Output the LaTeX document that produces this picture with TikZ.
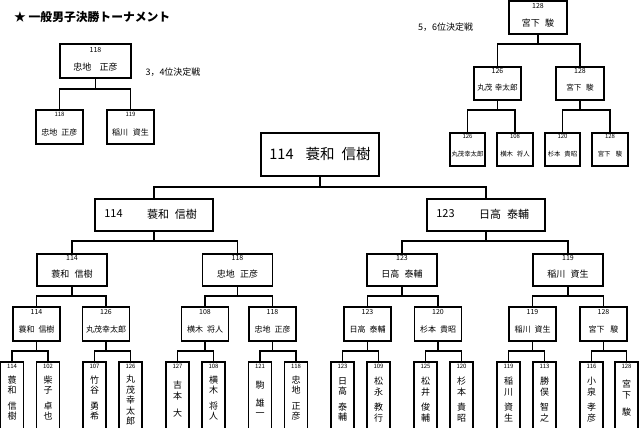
\documentclass[tikz,border=0pt]{standalone}
\usepackage{fontspec}
\setmainfont{Noto Sans CJK JP}
\usetikzlibrary{calc}

\newcommand\tconn[4]{%
  \coordinate (J) at (0,#2);
  \draw[conn] (#1.south) -- (#1.south |- J) -| (#3.north);
  \draw[conn] (#1.south |- J) -| (#4.north);}
\newcommand\numl[4]{\node[#2] (#1-n) at ($(#1.north)+(0,#3)$) {#4};}
\newcommand\naml[4]{\node[#2] (#1-t) at ($(#1.north)+(0,#3)$) {#4};}
\newcommand\rsx[5]{%
  \node[box, minimum width=23pt, minimum height=80pt, anchor=north] (#1) at (#2,361) {};
  \node[numS] (#1-n) at ($(#1.north)+(0,5.5)$) {#3};
  \node[vn] (#1-t) at ($(#1.north)+(0,#4)$) {#5};}
\newcommand\rex[4]{%
  \node[box, minimum width=47pt, minimum height=34pt, anchor=north] (#1) at (#2,306) {};
  \node[numT] (#1-n) at ($(#1.north)+(0,6)$) {#3};
  \node[nmR] (#1-t) at ($(#1.north)+(0,23)$) {#4};}
\newcommand\qfx[4]{%
  \node[box, minimum width=70pt, minimum height=32pt, anchor=north] (#1) at (#2,253) {};
  \node[numT] (#1-n) at ($(#1.north)+(0,5)$) {#3};
  \node[nm] (#1-t) at ($(#1.north)+(0,21)$) {#4};}

\begin{document}
\begin{tikzpicture}[x=1pt,y=-1pt,
  box/.style={draw,line width=1.8pt,inner sep=0pt},
  conn/.style={draw,line width=1.8pt},
  numT/.style={inner sep=0pt,font=\fontsize{7}{8}\selectfont},
  numS/.style={inner sep=0pt,font=\fontsize{6}{7}\selectfont},
  nm/.style={inner sep=0pt,font=\fontsize{9}{10}\selectfont},
  nmR/.style={inner sep=0pt,font=\fontsize{8}{9}\selectfont},
  nmM/.style={inner sep=0pt,font=\fontsize{7.6}{8.5}\selectfont},
  nmS/.style={inner sep=0pt,font=\fontsize{6.4}{7}\selectfont},
  vn/.style={inner sep=0pt,anchor=north,align=center,font=\fontsize{9}{10.5}\selectfont},
  lbl/.style={inner sep=0pt,font=\fontsize{9}{10}\selectfont},
]
\clip (0,0) rectangle (640,428);

% title
\node[anchor=west,inner sep=0pt,font=\fontsize{11.8}{13}\selectfont\bfseries] (title) at (14,17) {★ 一般男子決勝トーナメント};

% 3,4 place match
\node[box, minimum width=71pt, minimum height=34pt, anchor=north] (T34) at (95.5,43) {};
\numl{T34}{numT}{7}{118}
\naml{T34}{nm}{24}{忠地\hspace{0.9em}正彦}
\node[box, minimum width=47pt, minimum height=34pt, anchor=north] (T34a) at (59.5,109) {};
\numl{T34a}{numS}{5}{118}
\naml{T34a}{nmR}{23}{忠地\hspace{0.5em}正彦}
\node[box, minimum width=47pt, minimum height=34pt, anchor=north] (T34b) at (130.5,109) {};
\numl{T34b}{numS}{5}{119}
\naml{T34b}{nmR}{23}{稲川\hspace{0.6em}資生}
\node[lbl] (L34) at (173,72) {3，4位決定戦};
\tconn{T34}{89}{T34a}{T34b}

% 5,6 place match
\node[box, minimum width=58pt, minimum height=33pt, anchor=north] (T56) at (538,0.5) {};
\numl{T56}{numT}{5.5}{128}
\naml{T56}{nm}{22.5}{宮下\hspace{0.6em}駿}
\node[box, minimum width=47pt, minimum height=33pt, anchor=north] (M1) at (497.5,66) {};
\numl{M1}{numT}{5}{126}
\naml{M1}{nmM}{22}{丸茂\hspace{0.3em}幸太郎}
\node[box, minimum width=48pt, minimum height=33pt, anchor=north] (M2) at (580,66) {};
\numl{M2}{numT}{5}{128}
\naml{M2}{nmM}{22}{宮下\hspace{0.6em}駿}
\node[box, minimum width=35pt, minimum height=33pt, anchor=north] (B1) at (467.5,132) {};
\numl{B1}{numS}{4.5}{126}
\naml{B1}{nmS}{22}{丸茂幸太郎}
\node[box, minimum width=36pt, minimum height=33pt, anchor=north] (B2) at (515,132) {};
\numl{B2}{numS}{4.5}{108}
\naml{B2}{nmS}{22}{横木\hspace{0.6em}将人}
\node[box, minimum width=35pt, minimum height=33pt, anchor=north] (B3) at (562.5,132) {};
\numl{B3}{numS}{4.5}{120}
\naml{B3}{nmS}{22}{杉本\hspace{0.6em}貴昭}
\node[box, minimum width=36pt, minimum height=33pt, anchor=north] (B4) at (610,132) {};
\numl{B4}{numS}{4.5}{128}
\naml{B4}{nmS}{22}{宮下\hspace{0.8em}駿}
\node[lbl] (L56) at (445.5,27) {5，6位決定戦};
\tconn{T56}{44}{M1}{M2}
\tconn{M1}{110}{B1}{B2}
\tconn{M2}{110}{B3}{B4}

% final
\node[box, minimum width=118pt, minimum height=43pt, anchor=north] (F) at (320,132) {};
\node[inner sep=0pt,font=\fontsize{14.5}{16}\selectfont] (F-t) at (F.center) {114\hspace{12pt}蓑和\hspace{7pt}信樹};

% semifinals
\node[box, minimum width=118pt, minimum height=32pt, anchor=north] (S1) at (154,198) {};
\node[inner sep=0pt,font=\fontsize{11}{12}\selectfont] (S1-n) at (113.5,214) {114};
\node[inner sep=0pt,font=\fontsize{11}{12}\selectfont] (S1-t) at (172,214) {蓑和\hspace{6pt}信樹};
\node[box, minimum width=118pt, minimum height=32pt, anchor=north] (S2) at (486,198) {};
\node[inner sep=0pt,font=\fontsize{11}{12}\selectfont] (S2-n) at (445.5,214) {123};
\node[inner sep=0pt,font=\fontsize{11}{12}\selectfont] (S2-t) at (504,214) {日高\hspace{6pt}泰輔};
\tconn{F}{187}{S1}{S2}

% quarterfinals
\qfx{Q1}{72}{114}{蓑和\hspace{0.6em}信樹}
\qfx{Q2}{237.5}{118}{忠地\hspace{0.6em}正彦}
\qfx{Q3}{402}{123}{日高\hspace{0.6em}泰輔}
\qfx{Q4}{568}{119}{稲川\hspace{0.6em}資生}
\tconn{S1}{241}{Q1}{Q2}
\tconn{S2}{241}{Q3}{Q4}

% round of 8
\rex{r1}{36.5}{114}{蓑和\hspace{0.5em}信樹}
\rex{r2}{106}{126}{丸茂幸太郎}
\rex{r3}{205}{108}{横木\hspace{0.5em}将人}
\rex{r4}{272.5}{118}{忠地\hspace{0.5em}正彦}
\rex{r5}{367.5}{123}{日高\hspace{0.5em}泰輔}
\rex{r6}{438}{120}{杉本\hspace{0.5em}貴昭}
\rex{r7}{532.5}{119}{稲川\hspace{0.5em}資生}
\rex{r8}{603.5}{128}{宮下\hspace{0.7em}駿}
\tconn{Q1}{296}{r1}{r2}
\tconn{Q2}{296}{r3}{r4}
\tconn{Q3}{296}{r5}{r6}
\tconn{Q4}{296}{r7}{r8}

% round of 16
\rsx{a1}{12}{114}{14.5}{蓑\\和\\[5pt]信\\樹}
\rsx{a2}{48}{102}{14.5}{柴\\子\\[5pt]卓\\也}
\rsx{a3}{94.5}{107}{14.5}{竹\\谷\\[5pt]勇\\希}
\rsx{a4}{130.5}{126}{14}{丸\\茂\\幸\\太\\郎}
\rsx{a5}{177.5}{127}{20}{吉\\本\\[7pt]大}
\rsx{a6}{213.5}{108}{14.5}{横\\木\\[5pt]将\\人}
\rsx{a7}{260}{121}{20}{駒\\[7pt]雄\\一}
\rsx{a8}{296}{118}{14.5}{忠\\地\\[5pt]正\\彦}
\rsx{a9}{342.5}{123}{16}{日\\高\\[5pt]泰\\輔}
\rsx{a10}{378.5}{109}{16}{松\\永\\[5pt]教\\行}
\rsx{a11}{425.5}{125}{16}{松\\井\\[5pt]俊\\輔}
\rsx{a12}{461.5}{120}{16}{杉\\本\\[5pt]貴\\昭}
\rsx{a13}{508.5}{119}{16}{稲\\川\\[5pt]資\\生}
\rsx{a14}{544.5}{113}{16}{勝\\俣\\[5pt]智\\之}
\rsx{a15}{591.5}{116}{16}{小\\泉\\[5pt]孝\\彦}
\rsx{a16}{626.5}{128}{19}{宮\\下\\[7pt]駿}
\tconn{r1}{351}{a1}{a2}
\tconn{r2}{351}{a3}{a4}
\tconn{r3}{351}{a5}{a6}
\tconn{r4}{351}{a7}{a8}
\tconn{r5}{351}{a9}{a10}
\tconn{r6}{351}{a11}{a12}
\tconn{r7}{351}{a13}{a14}
\tconn{r8}{351}{a15}{a16}
\end{tikzpicture}
\end{document}
